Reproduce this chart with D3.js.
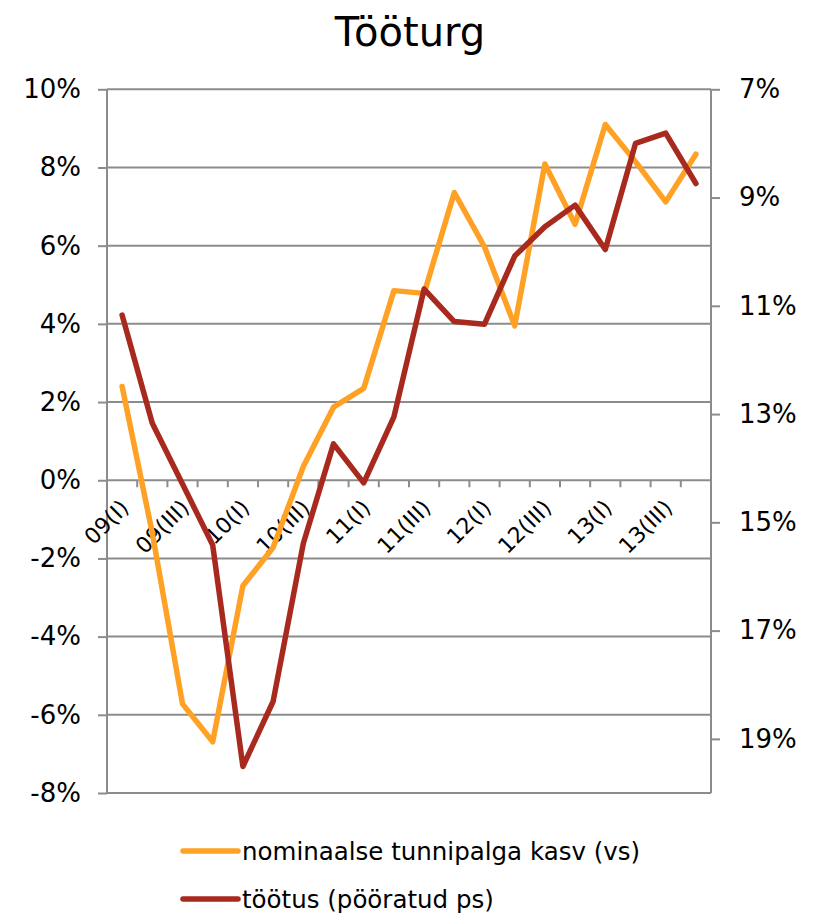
<!DOCTYPE html>
<html>
<head>
<meta charset="utf-8">
<script src="https://cdn.jsdelivr.net/npm/d3@7"></script>
<style>
  body { margin: 0; background: #fff; }
  svg { font-family: "DejaVu Sans", sans-serif; }
</style>
</head>
<body>
<div id="chart"></div>
<script>
// quarters 2009..2013
var quarters = ["09(I)","09(II)","09(III)","09(IV)","10(I)","10(II)","10(III)","10(IV)",
                "11(I)","11(II)","11(III)","11(IV)","12(I)","12(II)","12(III)","12(IV)",
                "13(I)","13(II)","13(III)","13(IV)"];
// nominaalse tunnipalga kasv, % (left axis)
var wage = [2.4, -1.35, -5.72, -6.69, -2.7, -1.72, 0.35, 1.87, 2.35, 4.85,
            4.78, 7.36, 5.97, 3.95, 8.09, 6.55, 9.1, 8.15, 7.12, 8.34];
// töötus, % (right axis, inverted)
var unemp = [11.17, 13.17, 14.29, 15.42, 19.51, 18.31, 15.39, 13.55, 14.27, 13.05,
             10.69, 11.29, 11.34, 10.08, 9.54, 9.14, 9.96, 8.0, 7.81, 8.74];
var leftTicks = [-8, -6, -4, -2, 0, 2, 4, 6, 8, 10];
var rightTicks = [7, 9, 11, 13, 15, 17, 19];
var seriesNames = ["nominaalse tunnipalga kasv (vs)", "töötus (pööratud ps)"];

var width = 814, height = 916;
var plotLeft = 107, plotRight = 711, plotTop = 89.3, plotBottom = 793;
var orange = "#ffa124", red = "#a8291d", gridColor = "#8c8c8c";

var svg = d3.select("#chart").append("svg")
    .attr("width", width)
    .attr("height", height);

var x = d3.scaleBand().domain(quarters).range([plotLeft, plotRight]);
var yL = d3.scaleLinear().domain([-8, 10]).range([plotBottom, plotTop]);
var yR = d3.scaleLinear().domain([7, 20]).range([plotTop, plotBottom]);

// title
svg.append("text")
    .attr("x", 410).attr("y", 46)
    .attr("text-anchor", "middle")
    .style("font-size", "40px")
    .text("Tööturg");

// horizontal grid lines
svg.append("g").selectAll("line")
    .data(leftTicks)
    .enter().append("line")
    .attr("x1", plotLeft).attr("x2", plotRight)
    .attr("y1", function(d) { return yL(d); })
    .attr("y2", function(d) { return yL(d); })
    .style("stroke", gridColor)
    .style("stroke-width", 2);

// left axis
var axL = svg.append("g")
    .attr("transform", "translate(" + plotLeft + ",0)")
    .call(d3.axisLeft(yL).tickValues(leftTicks).tickSize(9).tickPadding(17)
        .tickFormat(function(d) { return d + "%"; }));
axL.select(".domain").remove();
axL.append("line").attr("y1", plotTop).attr("y2", plotBottom)
    .style("stroke", gridColor).style("stroke-width", 2);

// right axis
var axR = svg.append("g")
    .attr("transform", "translate(" + plotRight + ",0)")
    .call(d3.axisRight(yR).tickValues(rightTicks).tickSize(9).tickPadding(19)
        .tickFormat(function(d) { return d + "%"; }));
axR.select(".domain").remove();
axR.append("line").attr("y1", plotTop).attr("y2", plotBottom)
    .style("stroke", gridColor).style("stroke-width", 2);

[axL, axR].forEach(function(ax) {
    ax.selectAll(".tick line").style("stroke", gridColor).style("stroke-width", 2);
    ax.selectAll(".tick text").style("font-size", "26px").style("fill", "#000")
        .style("font-family", "DejaVu Sans, sans-serif");
});

// category axis at 0%
var y0 = yL(0);
var boundaries = quarters.map(function(q) { return x(q); }).concat([plotRight]);
svg.append("g").selectAll("line")
    .data(boundaries)
    .enter().append("line")
    .attr("x1", function(d) { return d; }).attr("x2", function(d) { return d; })
    .attr("y1", y0).attr("y2", y0 + 7)
    .style("stroke", gridColor)
    .style("stroke-width", 2);

svg.append("g").selectAll("text")
    .data(quarters.filter(function(q, i) { return i % 2 === 0; }))
    .enter().append("text")
    .attr("transform", function(d) {
        return "translate(" + (x(d) + x.bandwidth() / 2 + 8) + "," + (y0 + 29) + ") rotate(-45)";
    })
    .attr("text-anchor", "end")
    .style("font-size", "22px")
    .text(function(d) { return d; });

// series lines
var lineL = d3.line()
    .x(function(d, i) { return x(quarters[i]) + x.bandwidth() / 2; })
    .y(function(d) { return yL(d); });
var lineR = d3.line()
    .x(function(d, i) { return x(quarters[i]) + x.bandwidth() / 2; })
    .y(function(d) { return yR(d); });

svg.append("path")
    .datum(wage)
    .attr("d", lineL)
    .style("fill", "none")
    .style("stroke", orange)
    .style("stroke-width", 5.5)
    .style("stroke-linejoin", "round")
    .style("stroke-linecap", "round");

svg.append("path")
    .datum(unemp)
    .attr("d", lineR)
    .style("fill", "none")
    .style("stroke", red)
    .style("stroke-width", 5.5)
    .style("stroke-linejoin", "round")
    .style("stroke-linecap", "round");

// legend
var legend = svg.append("g").selectAll("g")
    .data(seriesNames)
    .enter().append("g")
    .attr("transform", function(d, i) { return "translate(183," + (851 + i * 48) + ")"; });
legend.append("line")
    .attr("x1", 0).attr("x2", 55)
    .style("stroke", function(d, i) { return i === 0 ? orange : red; })
    .style("stroke-width", 5.5)
    .style("stroke-linecap", "round");
legend.append("text")
    .attr("x", 59).attr("dy", "0.35em")
    .style("font-size", "24.5px")
    .text(function(d) { return d; });
</script>
</body>
</html>
